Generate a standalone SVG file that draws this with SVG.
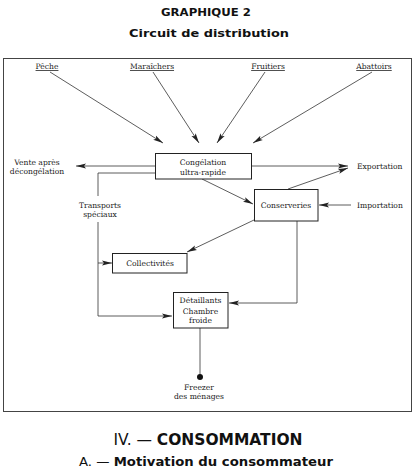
<svg xmlns="http://www.w3.org/2000/svg" width="416" height="468" viewBox="0 0 416 468">
<style>
.t{font-family:"DejaVu Serif","Liberation Serif",serif;font-size:7.6px;fill:#1a1a1a;text-anchor:middle}
.l{font-family:"DejaVu Serif","Liberation Serif",serif;font-size:7.6px;fill:#1a1a1a}
.u{text-decoration:underline}
.box{fill:#fff;stroke:#222;stroke-width:1}
.c{fill:none;stroke:#333;stroke-width:0.8}
.h{font-family:"DejaVu Sans","Liberation Sans",sans-serif;font-weight:bold;fill:#111;text-anchor:middle}
</style>
<defs>
<marker id="a" viewBox="0 0 10 6" refX="10" refY="3" markerWidth="10" markerHeight="6" markerUnits="userSpaceOnUse" orient="auto">
<path d="M0,0.5 L10,3 L0,5.5 L2,3 Z" fill="#222"/>
</marker>
</defs>
<rect width="416" height="468" fill="#fff"/>
<text class="h" x="206" y="16" font-size="10.5" textLength="90" lengthAdjust="spacingAndGlyphs">GRAPHIQUE 2</text>
<text class="h" x="209" y="37" font-size="10.5" textLength="160" lengthAdjust="spacingAndGlyphs">Circuit de distribution</text>
<rect x="3.5" y="58.5" width="408" height="353" fill="none" stroke="#444" stroke-width="1"/>

<g id="connectors">
<line class="c" x1="50" y1="72" x2="163" y2="143" marker-end="url(#a)"/>
<line class="c" x1="153" y1="72" x2="199" y2="143" marker-end="url(#a)"/>
<line class="c" x1="265" y1="72" x2="217" y2="143" marker-end="url(#a)"/>
<line class="c" x1="372" y1="72" x2="253" y2="143" marker-end="url(#a)"/>
<line class="c" x1="155" y1="166" x2="76" y2="166" marker-end="url(#a)"/>
<polyline class="c" points="155,173 98,173 98,196"/>
<polyline class="c" points="98,222 98,316 172,316" marker-end="url(#a)"/>
<line class="c" x1="98" y1="263" x2="112" y2="263" marker-end="url(#a)"/>
<line class="c" x1="252" y1="166" x2="348" y2="166" marker-end="url(#a)"/>
<line class="c" x1="202" y1="179" x2="253" y2="204" marker-end="url(#a)"/>
<line class="c" x1="288" y1="189" x2="348" y2="168" marker-end="url(#a)"/>
<line class="c" x1="351" y1="205" x2="319" y2="205" marker-end="url(#a)"/>
<line class="c" x1="254" y1="220" x2="187" y2="252" marker-end="url(#a)"/>
<polyline class="c" points="297,221 297,303 229,303" marker-end="url(#a)"/>
<line class="c" x1="200" y1="328" x2="200" y2="376"/>
</g>

<g id="peche"><text class="t u" x="47" y="69">Pêche</text></g>
<g id="maraichers"><text class="t u" x="152" y="69">Maraîchers</text></g>
<g id="fruitiers"><text class="t u" x="268" y="69">Fruitiers</text></g>
<g id="abattoirs"><text class="t u" x="374" y="69">Abattoirs</text></g>

<g id="congelation">
<rect class="box" x="155.5" y="153.5" width="96" height="25.5"/>
<text class="t" x="203" y="165">Congélation</text>
<text class="t" x="203" y="174.5">ultra-rapide</text>
</g>
<g id="vente">
<text class="t" x="37" y="165">Vente après</text>
<text class="t" x="37" y="174">décongélation</text>
</g>
<g id="transports">
<text class="t" x="100" y="208">Transports</text>
<text class="t" x="100" y="217">spéciaux</text>
</g>
<g id="exportation"><text class="l" x="357" y="168.5">Exportation</text></g>
<g id="importation"><text class="l" x="357" y="207.5">Importation</text></g>
<g id="conserveries">
<rect class="box" x="254.5" y="189.5" width="63.5" height="31.5"/>
<text class="t" x="286" y="208">Conserveries</text>
</g>
<g id="collectivites">
<rect class="box" x="112.5" y="253.5" width="74.5" height="19.5"/>
<text class="t" x="150" y="266">Collectivités</text>
</g>
<g id="detaillants">
<rect class="box" x="173.5" y="292.5" width="54.5" height="35.5"/>
<text class="t" x="200.5" y="303">Détaillants</text>
<text class="t" x="200.5" y="314">Chambre</text>
<text class="t" x="200.5" y="323">froide</text>
</g>
<g id="freezer">
<circle cx="200" cy="377" r="3" fill="#111"/>
<text class="t" x="199" y="390">Freezer</text>
<text class="t" x="199" y="399">des ménages</text>
</g>

<text x="208" y="445" font-family="DejaVu Sans,Liberation Sans,sans-serif" font-size="15" fill="#111" text-anchor="middle" textLength="189" lengthAdjust="spacingAndGlyphs">IV. — <tspan font-weight="bold">CONSOMMATION</tspan></text>
<text x="206" y="466" font-family="DejaVu Sans,Liberation Sans,sans-serif" font-size="13" fill="#111" font-weight="bold" text-anchor="middle" textLength="254" lengthAdjust="spacingAndGlyphs"><tspan font-weight="normal">A. — </tspan>Motivation du consommateur</text>
</svg>
